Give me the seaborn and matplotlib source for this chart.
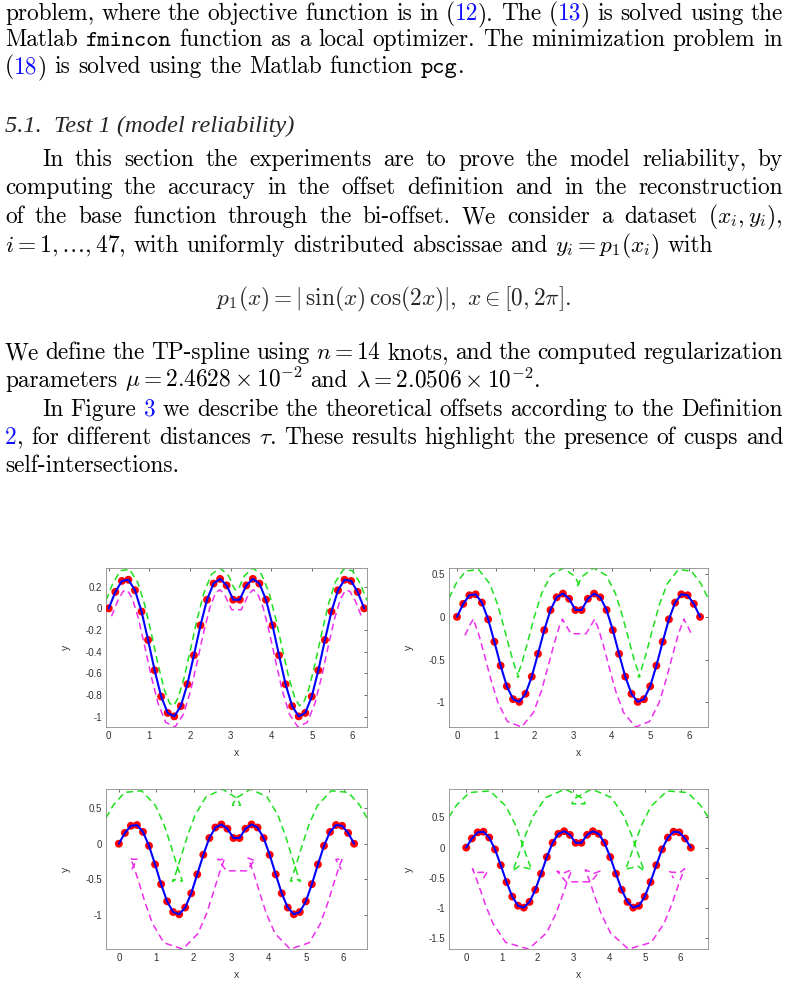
import re
import numpy as np
import pandas as pd
import matplotlib
matplotlib.use("Agg")
import matplotlib.pyplot as plt
import seaborn as sns

# dataset (x_i, y_i) (uniform abscissae on [0, 2*pi])
x_data = [0.000, 0.161, 0.322, 0.483, 0.644, 0.806, 0.967, 1.128, 1.289, 1.450,
          1.611, 1.772, 1.933, 2.094, 2.256, 2.417, 2.578, 2.739, 2.900, 3.061,
          3.222, 3.383, 3.544, 3.705, 3.867, 4.028, 4.189, 4.350, 4.511, 4.672,
          4.833, 4.994, 5.155, 5.317, 5.478, 5.639, 5.800, 5.961, 6.122, 6.283]
y_data = [0.000, 0.152, 0.253, 0.264, 0.167, -0.029, -0.292, -0.571, -0.813, -0.964,
          -0.996, -0.901, -0.700, -0.433, -0.156, 0.080, 0.229, 0.272, 0.212, 0.080,
          0.080, 0.212, 0.272, 0.229, 0.080, -0.156, -0.433, -0.700, -0.901, -0.996,
          -0.964, -0.813, -0.571, -0.292, -0.029, 0.167, 0.264, 0.253, 0.152, 0.000]

# offset distance tau for each panel
tau_values = [0.1, 0.3, 0.5, 0.7]

x_ticks = [0, 1, 2, 3, 4, 5, 6]
y_ticks = [[-1, -0.8, -0.6, -0.4, -0.2, 0, 0.2],
           [-1, -0.5, 0, 0.5],
           [-1, -0.5, 0, 0.5],
           [-1.5, -1, -0.5, 0, 0.5]]
y_tick_labels = [["-1", "-0.8", "-0.6", "-0.4", "-0.2", "0", "0.2"],
                 ["-1", "-0.5", "0", "0.5"],
                 ["-1", "-0.5", "0", "0.5"],
                 ["-1.5", "-1", "-0.5", "0", "0.5"]]

# page text: @..@ = blue reference, `..` = typewriter
page_lines = [
    ("problem, where the objective function is in (@12@). The (@13@) is solved using the", 20, 5, True),
    ("Matlab `fmincon` function as a local optimizer. The minimization problem in", 46, 5, True),
    ("(@18@) is solved using the Matlab function `pcg`.", 73, 5, False),
    ("In this section the experiments are to prove the model reliability, by", 166, 42, True),
    ("computing the accuracy in the offset definition and in the reconstruction", 194, 5, True),
    ("of the base function through the bi-offset. We consider a dataset $(x_i,y_i)$,", 223, 5, True),
    ("$i=1,\\ldots,47$, with uniformly distributed abscissae and $y_i=p_1(x_i)$ with", 252, 5, False),
    ("We define the TP-spline using $n=14$ knots, and the computed regularization", 359, 5, True),
    ("parameters $\\mu=2.4628\\times10^{-2}$ and $\\lambda=2.0506\\times10^{-2}$.", 387, 5, False),
    ("In Figure @3@ we describe the theoretical offsets according to the Definition", 416, 42, True),
    ("@2@, for different distances $\\tau$. These results highlight the presence of cusps and", 444, 5, True),
    ("self-intersections.", 472, 5, False),
]
section_title = "5.1.  Test 1 (model reliability)"
equation = r"$p_1(x)=|\,\sin(x)\,\cos(2x)|,\ x\in[0,2\pi].$"

W, H = 788, 985
body_size = 16.8

sns.set_style("white")
plt.rcParams["font.family"] = ["Liberation Sans", "DejaVu Sans"]
plt.rcParams["axes.unicode_minus"] = False
plt.rcParams["mathtext.fontset"] = "cm"

fig = plt.figure(figsize=(W / 100, H / 100), dpi=100)
renderer = fig.canvas.get_renderer()


def put_line(line, y_px, x0, justify, x1=783):
    words = []
    for wd in line.split(" "):
        objs = []
        for p in re.split(r"(@[^@]*@|`[^`]*`)", wd):
            if not p:
                continue
            fam, col = "cmr10", "black"
            if p.startswith("@"):
                p, col = p[1:-1], "#1010ff"
            elif p.startswith("`"):
                p, fam = p[1:-1], "cmtt10"
            t = fig.text(0, 1 - y_px / H, p, fontsize=body_size, family=fam,
                         color=col, va="baseline", ha="left")
            objs.append((t, t.get_window_extent(renderer).width))
        words.append(objs)
    widths = [sum(w for _, w in objs) for objs in words]
    if justify and len(words) > 1:
        gap = (x1 - x0 - sum(widths)) / (len(words) - 1)
    else:
        gap = 0.333 * body_size * 100 / 72
    x = x0
    for objs, wsum in zip(words, widths):
        xx = x
        for t, w in objs:
            t.set_x(xx / W)
            xx += w
        x += wsum + gap


for line, y_px, x0, just in page_lines:
    put_line(line, y_px, x0, just)

fig.text(5 / W, 1 - 132 / H, section_title, fontsize=17.6, family="Liberation Serif",
         style="italic", va="baseline", ha="left")
fig.text(394 / W, 1 - 305 / H, equation, fontsize=body_size, va="baseline", ha="center")

# subplot boxes in figure fractions
boxes = [[0.1345, 0.2619, 0.3312, 0.1614],
         [0.5698, 0.2619, 0.3287, 0.1614],
         [0.1345, 0.0365, 0.3312, 0.1624],
         [0.5698, 0.0365, 0.3287, 0.1624]]

x = np.array(x_data)
y = np.array(y_data)
dy = np.gradient(y, x)
s = np.sqrt(1 + dy ** 2)
nx, ny = -dy / s, 1 / s

green, magenta = "#1ee01e", "#ee2eee"
for k, tau in enumerate(tau_values):
    ax = fig.add_axes(boxes[k])
    up = pd.DataFrame({"x": x + tau * nx, "y": y + tau * ny})
    dn = pd.DataFrame({"x": x - tau * nx, "y": y - tau * ny})
    sns.lineplot(data=up, x="x", y="y", sort=False, estimator=None, color=green,
                 linewidth=1.1, linestyle=(0, (4.5, 2.8)), ax=ax)
    sns.lineplot(data=dn, x="x", y="y", sort=False, estimator=None, color=magenta,
                 linewidth=1.1, linestyle=(0, (4.5, 2.8)), ax=ax)
    sns.scatterplot(x=x_data, y=y_data, color="red", s=32, edgecolor="none", ax=ax, zorder=3)
    sns.lineplot(x=x_data, y=y_data, sort=False, estimator=None, color="blue",
                 linewidth=1.5, ax=ax, zorder=4)
    ax.margins(x=0, y=0)
    ax.autoscale_view()
    ax.set_xticks(x_ticks)
    ax.set_xticklabels([str(v) for v in x_ticks])
    ax.set_yticks(y_ticks[k])
    ax.set_yticklabels(y_tick_labels[k])
    ax.tick_params(direction="in", length=2.5, width=0.6, color="#555555",
                   labelcolor="#333333", labelsize=7, top=True, right=True, pad=3)
    for sp in ax.spines.values():
        sp.set_color("#8a8a8a")
        sp.set_linewidth(0.6)
    ax.set_xlabel("x", fontsize=7.5, color="#333333", labelpad=5)
    ax.set_ylabel("y", fontsize=7.5, color="#333333", labelpad=10)

fig.savefig("out.png", dpi=100, facecolor="white")
